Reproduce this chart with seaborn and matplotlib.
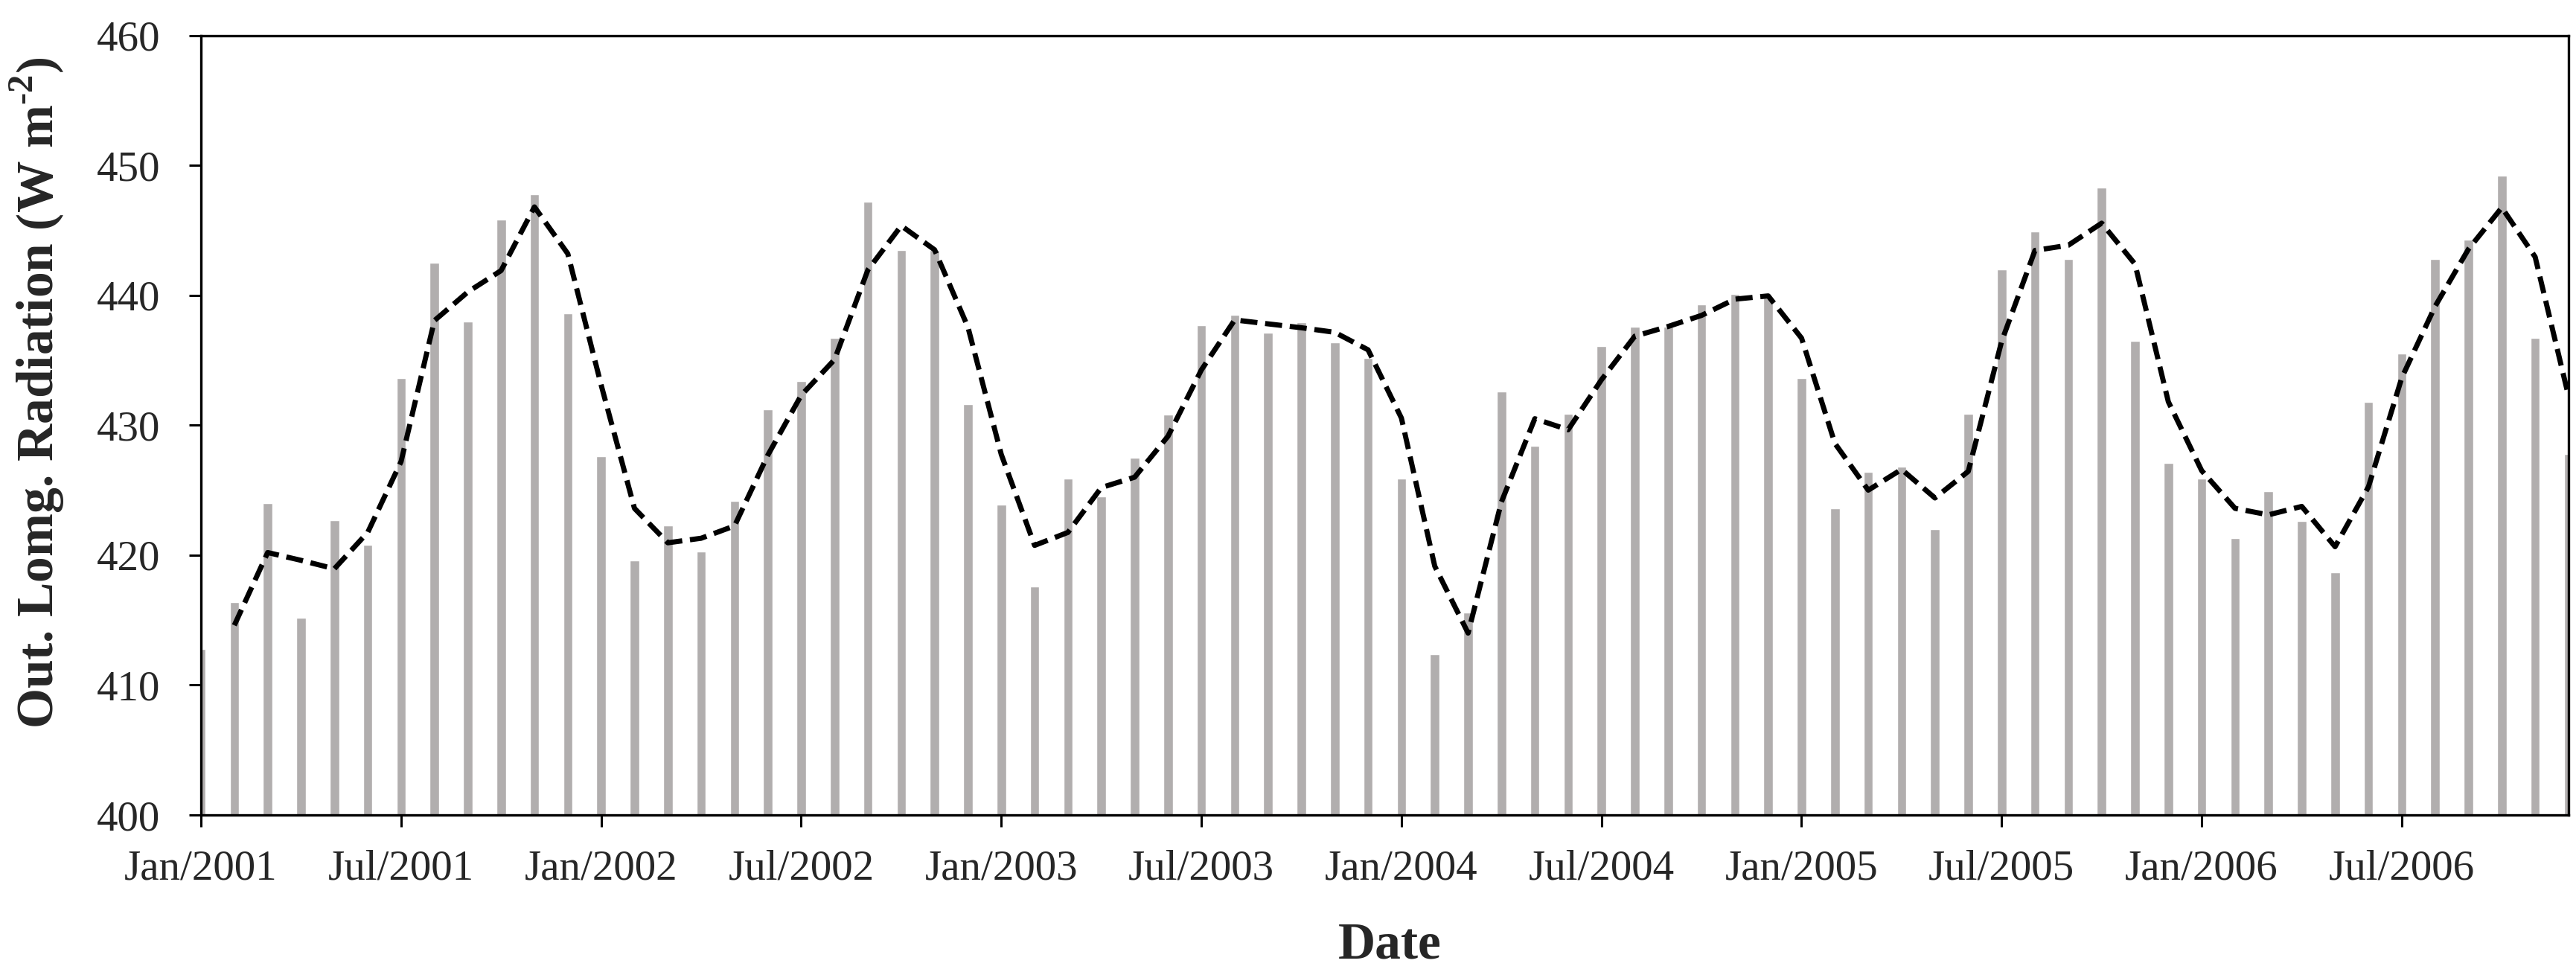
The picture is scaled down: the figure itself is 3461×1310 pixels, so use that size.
import pandas as pd
import matplotlib
matplotlib.use("Agg")
import matplotlib.pyplot as plt
import seaborn as sns

# monthly outgoing longwave radiation, Jan/2001 .. Dec/2006 (W m-2)
months = list(range(72))
olr = [412.8, 416.4, 424.0, 415.2, 422.7, 420.8, 433.6, 442.5, 438.0, 445.8, 447.8, 438.6,
       427.6, 419.6, 422.3, 420.3, 424.2, 431.2, 433.4, 436.7, 447.2, 443.5, 443.5, 431.6,
       423.9, 417.6, 425.9, 424.5, 427.5, 430.8, 437.7, 438.5, 437.1, 437.9, 436.4, 435.2,
       425.9, 412.4, 415.6, 432.6, 428.4, 430.9, 436.1, 437.6, 437.6, 439.3, 440.1, 439.8,
       433.6, 423.6, 426.4, 426.8, 422.0, 430.9, 442.0, 444.9, 442.8, 448.3, 436.5, 427.1,
       425.9, 421.3, 424.9, 422.6, 418.7, 431.8, 435.5, 442.8, 444.3, 449.2, 436.7, 427.8]

tick_pos = [0, 6, 12, 18, 24, 30, 36, 42, 48, 54, 60, 66]
tick_labels = ["Jan/2001", "Jul/2001", "Jan/2002", "Jul/2002", "Jan/2003", "Jul/2003",
               "Jan/2004", "Jul/2004", "Jan/2005", "Jul/2005", "Jan/2006", "Jul/2006"]

df = pd.DataFrame({"month": months, "olr": olr})
# 2-month moving average trendline, as in the original chart
df["ma"] = df["olr"].rolling(2).mean()

sns.set_style("ticks")
plt.rcParams["font.family"] = ["Liberation Serif", "DejaVu Serif"]
plt.rcParams["mathtext.fontset"] = "custom"
plt.rcParams["mathtext.rm"] = "Liberation Serif"
plt.rcParams["mathtext.bf"] = "Liberation Serif:bold"

fig, ax = plt.subplots(figsize=(34.62, 13.10), dpi=100)
fig.subplots_adjust(left=0.078, right=0.9968, top=0.9637, bottom=0.1641)

sns.barplot(data=df, x="month", y="olr", native_scale=True, width=0.28,
            color="#B1AEAE", saturation=1, ax=ax)
sns.lineplot(data=df.dropna(), x="month", y="ma", color="black", lw=5,
             dashes=False, ax=ax)
ax.lines[-1].set_dashes((3.3, 1.5))

ax.set_xlim(0, 71)
ax.set_ylim(400, 460)
ax.set_yticks(range(400, 461, 10))
ax.set_xticks(tick_pos)
ax.set_xticklabels(tick_labels)

for s in ax.spines.values():
    s.set_visible(True)
    s.set_linewidth(2.4)
    s.set_color("black")

ax.tick_params(axis="both", direction="out", length=11.5, width=2.2,
               labelsize=41, color="black")
ax.tick_params(axis="x", pad=22)
ax.tick_params(axis="y", pad=28)

ax.set_xlabel("Date", fontsize=50, fontweight="bold")
ax.set_ylabel("Out. Lomg. Radiation (W m$^{\\mathbf{\u20102}}$)", fontsize=50,
              fontweight="bold")
ax.xaxis.set_label_coords(0.502, -0.1365)
ax.yaxis.set_label_coords(-0.057, 0.542)

fig.savefig("out.png", dpi=100)
